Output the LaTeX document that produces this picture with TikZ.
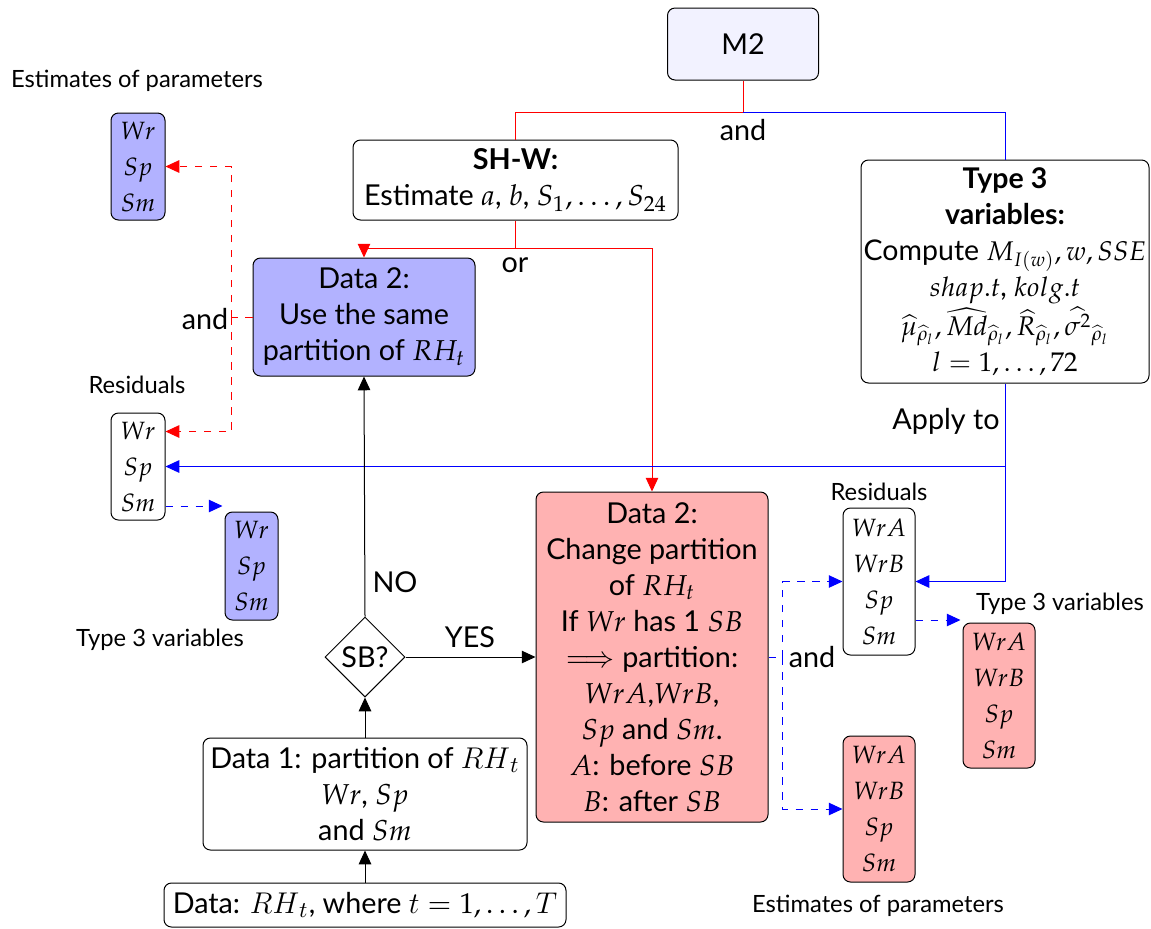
\documentclass[tikz,border=0pt]{standalone}
\usepackage{mathpazo}
\usepackage{fontspec}
\setmainfont{Lato}
\DeclareMathSizes{11.4}{10.8}{7.8}{5.8}
\DeclareMathAlphabet{\cmit}{OML}{cmm}{m}{it}
\usetikzlibrary{arrows.meta,shapes.geometric,calc}
\begin{document}
\begin{tikzpicture}[x=0.4pt,y=-0.4pt,
  font=\fontsize{11.5}{14.4}\selectfont,
  box/.style={draw,rounded corners=3pt,align=center,inner sep=1pt},
  sbox/.style={box,font=\fontsize{10}{14.4}\selectfont},
  wh/.style n args={2}{minimum width=#1*0.4pt,minimum height=#2*0.4pt},
  lbl/.style={font=\fontsize{9.5}{11}\selectfont,inner sep=1pt},
  txt/.style={inner sep=1pt},
  tip/.style={-{Triangle[length=5.5pt,width=5pt]}},
  reddash/.style={red,dashed},
  bluedash/.style={blue,dashed}]
\useasboundingbox (0,0) rectangle (1151,928);

% main boxes
\node[box,wh={151}{72},fill=blue!5] (m2) at (743,44) {M2};
\node[box,wh={325}{80}] (shw) at (515.5,180) {\textbf{SH-W:}\\Estimate $a$, $b$, $S_1,\dots,S_{24}$};
\node[box,wh={288}{223},font=\fontsize{11.4}{14.4}\selectfont] (t3) at (1005,271.5) {\textbf{Type 3}\\\textbf{variables:}\\Compute $M_{I(w)}, w, SSE$\\$shap.t$, $kolg.t$\\[1pt]$\widehat{\mu}_{\widehat{\rho}_l}, \widehat{Md}_{\widehat{\rho}_l}, \widehat{R}_{\widehat{\rho}_l}, \widehat{\sigma^2}_{\widehat{\rho}_l}$\\$l=1,\dots,72$};
\node[box,fill=blue!30,wh={222}{118}] (d2a) at (364,317) {Data 2:\\Use the same\\partition of $RH_t$};
\node[box,fill=red!30,wh={232}{330}] (d2b) at (652,657) {Data 2:\\Change partition\\of $RH_t$\\If $Wr$ has 1 $SB$\\$\Longrightarrow$ partition:\\$WrA$,$WrB$,\\$Sp$ and $Sm$.\\$A$: before $SB$\\$B$: after $SB$};
\node[diamond,draw,wh={80}{80},inner sep=0pt] (sb) at (365,657) {SB?};
\node[box,wh={324}{112}] (d1) at (365,794) {Data 1: partition of $\cmit{RH}_{\cmit{t}}$\\$Wr$, $Sp$\\and $Sm$};
\node[box,wh={402}{44}] (d0) at (365,905) {Data: $\cmit{RH}_{\cmit{t}}$, where $\cmit{t}=1,\dots,\cmit{T}$};

% small boxes
\node[sbox,fill=blue!30,wh={54}{107}] (e1) at (138,166.5) {$Wr$\\$Sp$\\$Sm$};
\node[sbox,wh={54}{107}] (r1) at (138,466.5) {$Wr$\\$Sp$\\$Sm$};
\node[sbox,fill=blue!30,wh={53}{108}] (v1) at (251.5,566) {$Wr$\\$Sp$\\$Sm$};
\node[sbox,wh={72}{147}] (r2) at (879,581.5) {$WrA$\\$WrB$\\$Sp$\\$Sm$};
\node[sbox,fill=red!30,wh={72}{145}] (v2) at (999,695.5) {$WrA$\\$WrB$\\$Sp$\\$Sm$};
\node[sbox,fill=red!30,wh={72}{146}] (e2) at (879,809) {$WrA$\\$WrB$\\$Sp$\\$Sm$};

% labels
\node[lbl] (le1) at (137,81) {Estimates of parameters};
\node[lbl] (lr1) at (137,385) {Residuals};
\node[lbl] (lv1) at (160,640) {Type 3 variables};
\node[lbl] (lr2) at (879,492) {Residuals};
\node[lbl] (lv2) at (1060,604) {Type 3 variables};
\node[lbl] (le2) at (878,906) {Estimates of parameters};

% connectors
\draw[red] (m2.south) -- ++(0,32) coordinate (j1);
\draw[red] (j1) -| (shw.north);
\draw[blue] (j1) -| (t3.north);
\node[txt] (and1) at (743,130) {and};

\draw[red] (shw.south) -- ++(0,28) coordinate (j2);
\draw[red,tip] (j2) -| (d2a.north);
\draw[red,tip] (j2) -| (d2b.north);
\node[txt] (or) at (515,265) {or};

\draw[blue,tip] (t3.south) |- (r1.east);
\draw[blue,tip] (t3.south) |- (r2.east);
\node[txt] (apply) at (946,421) {Apply to};

\draw[reddash] (d2a.west) -- ++(-21,0) coordinate (j4);
\draw[reddash,tip] (j4) |- (e1.east);
\draw[reddash,tip] (j4) |- ($(r1.east)+(0,-35)$);
\node[txt] (and2) at (205,319) {and};

\draw[bluedash,tip] ($(r1.east)+(0,39.5)$) -- ++(57,0) coordinate (k1);

\draw[tip] (sb.north) -- (d2a.south);
\node[txt] (no) at (395,582) {NO};
\draw[tip] (sb.east) -- (d2b.west);
\node[txt] (yes) at (470,637) {YES};
\draw[tip] (d1.north) -- (sb.south);
\draw[tip] (d0.north) -- (d1.south);

\draw[bluedash] (d2b.east) -- ++(14,0) coordinate (j5);
\draw[bluedash,tip] (j5) |- (r2.west);
\draw[bluedash,tip] (j5) |- (e2.west);
\node[txt] (and3) at (812,657) {and};

\draw[bluedash,tip] ($(r2.east)+(0,38.5)$) -- ++(45,0) coordinate (k2);
\end{tikzpicture}
\end{document}
